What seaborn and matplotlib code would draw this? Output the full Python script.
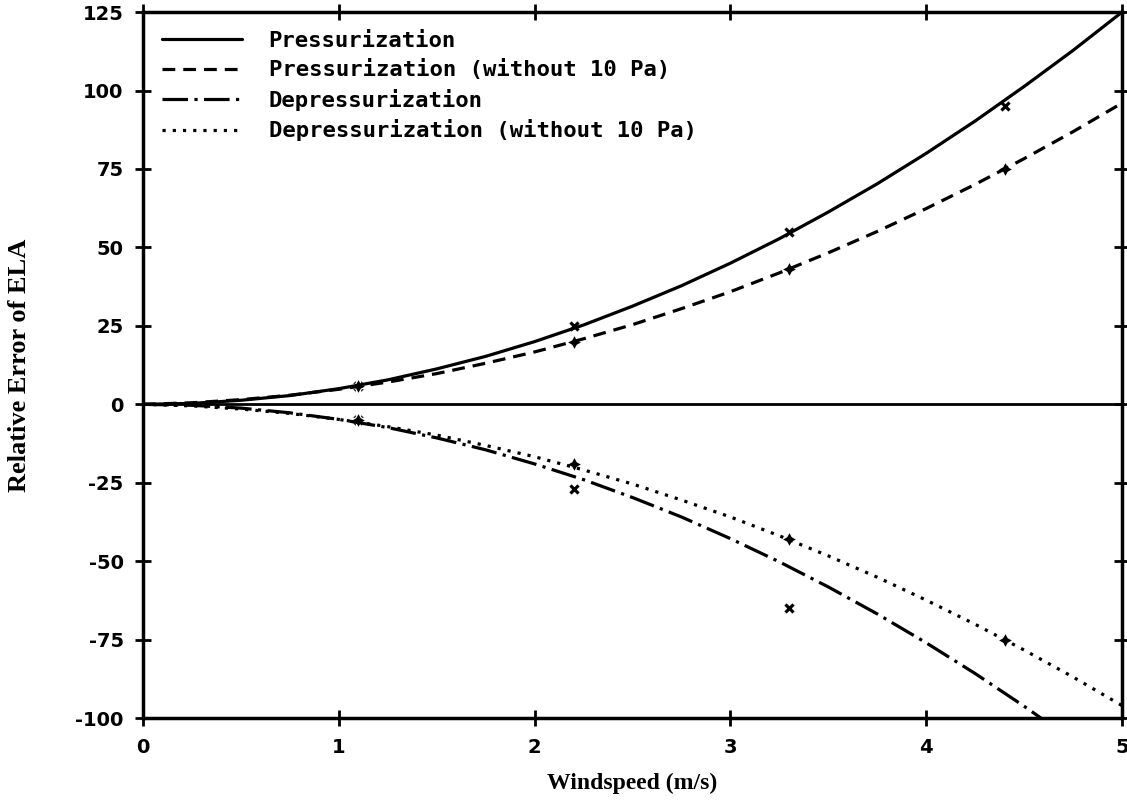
import numpy as np
import pandas as pd
import matplotlib.pyplot as plt
import seaborn as sns

# curve values (windspeed grid 0..5 step 0.25)
wind = [0, 0.25, 0.5, 0.75, 1, 1.25, 1.5, 1.75, 2, 2.25, 2.5, 2.75,
        3, 3.25, 3.5, 3.75, 4, 4.25, 4.5, 4.75, 5]
press = [0, 0.3, 1.3, 2.8, 5, 7.8, 11.3, 15.3, 20, 25.3, 31.3, 37.8,
         45, 52.8, 61.3, 70.3, 80, 90.3, 101.3, 112.8, 125]
press_no10 = [0, 0.5, 1.5, 2.9, 4.8, 7.1, 9.8, 13.1, 16.7, 20.9, 25.4, 30.5,
              35.9, 41.9, 48.3, 55.1, 62.4, 70.1, 78.3, 86.9, 96]
depress = [0, -0.3, -1.2, -2.7, -4.8, -7.4, -10.7, -14.5, -19, -24, -29.7, -35.9,
           -42.8, -50.2, -58.2, -66.8, -76, -85.8, -96.2, -107.2, -118.8]
depress_no10 = [0, -0.5, -1.5, -2.9, -4.8, -7.1, -9.8, -13.1, -16.7, -20.9, -25.4, -30.5,
                -35.9, -41.9, -48.3, -55.1, -62.4, -70.1, -78.3, -86.9, -96]

# measured points
pt_wind = [1.1, 2.2, 3.3, 4.4]
pt_press = [6, 25, 55, 95]
pt_press_no10 = [6, 20, 43, 75]
pt_depress_wind = [1.1, 2.2, 3.3]
pt_depress = [-5, -27, -65]
pt_depress_no10 = [-5, -19, -43, -75]

labels = ["Pressurization", "Pressurization (without 10 Pa)",
          "Depressurization", "Depressurization (without 10 Pa)"]

sns.set_style("ticks")
plt.rcParams['font.family'] = ['DejaVu Sans']
plt.rcParams['axes.unicode_minus'] = False
plt.rcParams['text.color'] = 'black'
plt.rcParams['xtick.color'] = 'black'
plt.rcParams['ytick.color'] = 'black'
plt.rcParams['axes.edgecolor'] = 'black'
plt.rcParams['axes.labelcolor'] = 'black'

fig = plt.figure(figsize=(11.27, 8.06), dpi=100)
ax = fig.add_axes([0.127, 0.109, 0.8686, 0.876])

styles = ["-", (0, (4, 2.5)), (0, (8, 2, 1, 2)), (0, (1, 2.2))]
curves = [press, press_no10, depress, depress_no10]
for ys, lab, ls in zip(curves, labels, styles):
    sns.lineplot(x=wind, y=ys, ax=ax, color="black", lw=2.3,
                 linestyle=ls, label=lab)

sns.scatterplot(x=pt_wind, y=pt_press, ax=ax, color="black", marker="X", s=70)
sns.scatterplot(x=pt_wind, y=pt_press_no10, ax=ax, color="black", marker=(4, 1, 0), s=120)
sns.scatterplot(x=pt_depress_wind, y=pt_depress, ax=ax, color="black", marker="X", s=70)
sns.scatterplot(x=pt_wind, y=pt_depress_no10, ax=ax, color="black", marker=(4, 1, 0), s=120)

ax.axhline(0, color="black", lw=2)

ax.set_xlim(0, 5)
ax.set_ylim(-100, 125)
ax.set_xticks([0, 1, 2, 3, 4, 5])
ax.set_yticks([-100, -75, -50, -25, 0, 25, 50, 75, 100, 125])
ax.tick_params(direction="inout", length=12, width=2, top=True, right=True,
               labelsize=14, pad=8)
for lab in ax.get_xticklabels() + ax.get_yticklabels():
    lab.set_fontweight("heavy")
for sp in ax.spines.values():
    sp.set_linewidth(2.5)
    sp.set_visible(True)

ax.set_xlabel("Windspeed (m/s)", family="Liberation Serif", fontweight="bold",
              fontsize=17, labelpad=12)
ax.set_ylabel("Relative Error of ELA", family="Liberation Serif", fontweight="bold",
              fontsize=19, labelpad=32)

leg = ax.legend(loc="upper left", frameon=False, handlelength=3.6,
                prop={"family": "DejaVu Sans Mono", "weight": "bold", "size": 16},
                labelspacing=0.38, borderaxespad=0.45, handletextpad=1.2)

fig.savefig("out.png", dpi=100)
